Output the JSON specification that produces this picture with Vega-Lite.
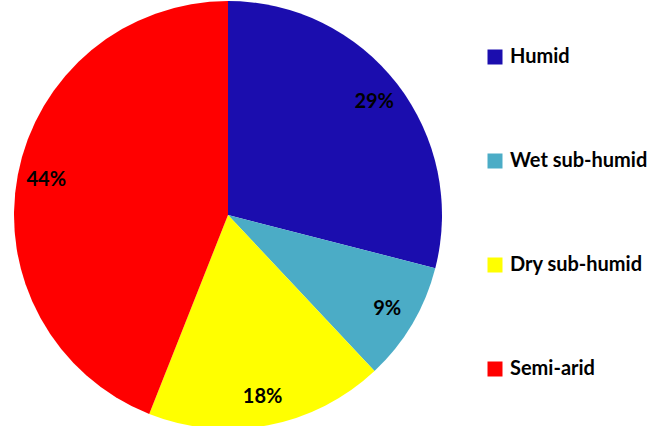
{
  "$schema": "https://vega.github.io/schema/vega-lite/v6.json",
  "width": 456,
  "height": 430,
  "padding": 0,
  "autosize": {"type": "pad"},
  "background": "white",
  "data": {
    "values": [
      {"zone": "Humid", "value": 29, "label": "29%", "idx": 1},
      {"zone": "Wet sub-humid", "value": 9, "label": "9%", "idx": 2},
      {"zone": "Dry sub-humid", "value": 18, "label": "18%", "idx": 3},
      {"zone": "Semi-arid", "value": 44, "label": "44%", "idx": 4}
    ]
  },
  "encoding": {
    "theta": {"field": "value", "type": "quantitative", "stack": true},
    "order": {"field": "idx", "type": "quantitative"}
  },
  "layer": [
    {
      "mark": {"type": "arc", "outerRadius": 214},
      "encoding": {
        "color": {
          "field": "zone",
          "type": "nominal",
          "sort": ["Humid", "Wet sub-humid", "Dry sub-humid", "Semi-arid"],
          "scale": {
            "domain": ["Humid", "Wet sub-humid", "Dry sub-humid", "Semi-arid"],
            "range": ["#1B0DAE", "#4BACC6", "#FFFF00", "#FF0000"]
          },
          "legend": {
            "title": null,
            "orient": "none",
            "legendX": 485,
            "legendY": 47,
            "padding": 0,
            "symbolType": "square",
            "symbolSize": 225,
            "symbolStrokeWidth": 0,
            "symbolOpacity": 1,
            "labelFont": "Lato",
            "labelFontWeight": "bold",
            "labelFontSize": 20,
            "labelColor": "black",
            "labelOffset": 5,
            "rowPadding": 84,
            "labelLimit": 300
          }
        }
      }
    },
    {
      "mark": {"type": "text", "radius": 185, "font": "Lato", "fontWeight": "bold", "fontSize": 20, "color": "black"},
      "encoding": {
        "text": {"field": "label", "type": "nominal"}
      }
    }
  ],
  "config": {"view": {"stroke": null}}
}
